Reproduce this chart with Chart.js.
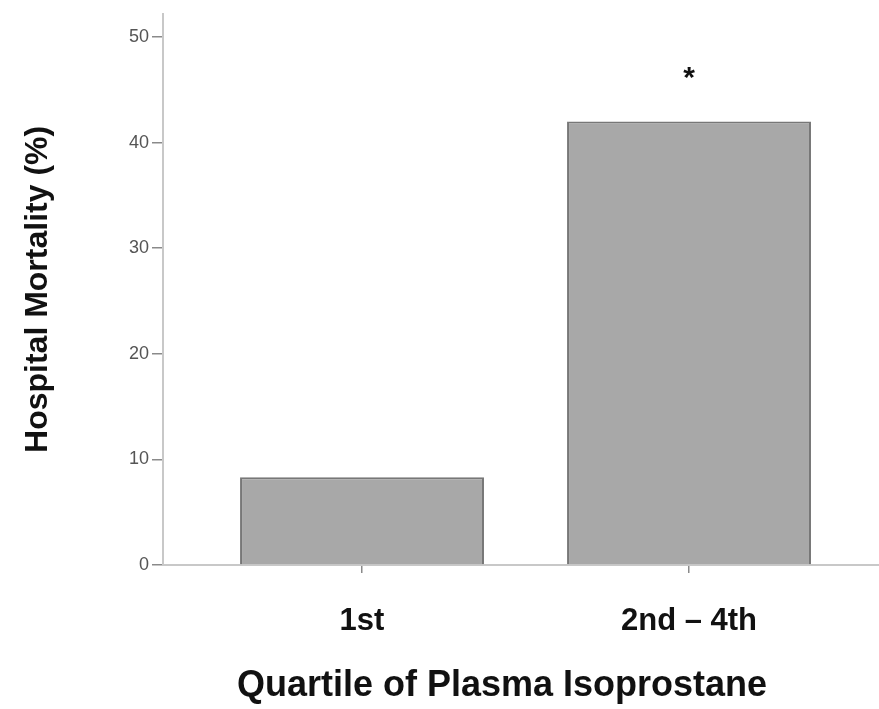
<!DOCTYPE html>
<html>
<head>
<meta charset="utf-8">
<script src="https://cdn.jsdelivr.net/npm/chart.js@4.4.1/dist/chart.umd.min.js"></script>
<style>
  html, body { margin: 0; padding: 0; background: #ffffff; }
  #wrap { width: 879px; height: 709px; }
</style>
</head>
<body>
<div id="wrap"><canvas id="mortalityChart" width="879" height="709"></canvas></div>
<script>
const categories = ['1st', '2nd \u2013 4th'];
const mortality = [8.3, 42.0];
const significance = ['', '*'];
const yTickValues = [0, 10, 20, 30, 40, 50];
const yTitle = 'Hospital Mortality (%)';
const xTitle = 'Quartile of Plasma Isoprostane';

const fontFamily = '"Liberation Sans", Arial, Helvetica, sans-serif';

// asterisk above bars + x title drawn by hand (title sits off-centre in the original)
const annotations = {
    id: 'annotations',
    afterDatasetsDraw(chart) {
        const ctx = chart.ctx;
        const x = chart.scales.x;
        const y = chart.scales.y;
        ctx.save();
        ctx.fillStyle = '#111111';
        ctx.textAlign = 'center';
        ctx.textBaseline = 'alphabetic';
        ctx.font = 'bold 30px ' + fontFamily;
        significance.forEach((mark, i) => {
            if (!mark) return;
            ctx.fillText(mark, x.getPixelForValue(i), y.getPixelForValue(mortality[i]) - 35);
        });
        ctx.font = 'bold 36px ' + fontFamily;
        ctx.fillText(xTitle, 502, 696);
        ctx.restore();
    }
};

const ctx = document.getElementById('mortalityChart').getContext('2d');
new Chart(ctx, {
    type: 'bar',
    data: {
        datasets: [{
            data: mortality.map((v, i) => ({ x: i, y: v })),
            backgroundColor: '#a8a8a8',
            borderColor: '#777777',
            borderWidth: 2,
            categoryPercentage: 0.746,
            barPercentage: 1.0
        }]
    },
    options: {
        responsive: false,
        animation: false,
        layout: { padding: { top: 10, right: 0, left: 0, bottom: 0 } },
        plugins: {
            legend: { display: false },
            tooltip: { enabled: false }
        },
        scales: {
            x: {
                type: 'linear',
                offset: false,
                min: -0.6086,
                max: 1.581,
                afterBuildTicks: (scale) => {
                    scale.ticks = categories.map((_, i) => ({ value: i }));
                },
                afterFit: (scale) => { scale.height = 144; },
                grid: {
                    offset: false,
                    drawOnChartArea: false,
                    drawTicks: true,
                    tickLength: 8,
                    color: '#8a8a8a',
                    lineWidth: 1.5
                },
                border: { display: true, color: '#c8c8c8', width: 2 },
                ticks: {
                    autoSkip: false,
                    maxRotation: 0,
                    padding: 30,
                    color: '#111111',
                    font: { family: fontFamily, size: 31, weight: 'bold' },
                    callback: (value) => categories[value]
                }
            },
            y: {
                min: 0,
                max: 52.2,
                afterBuildTicks: (scale) => {
                    scale.ticks = yTickValues.map(v => ({ value: v }));
                },
                afterFit: (scale) => { scale.width = 163; },
                grid: {
                    drawOnChartArea: false,
                    drawTicks: true,
                    tickLength: 11,
                    color: '#8a8a8a',
                    lineWidth: 1.5
                },
                border: { display: true, color: '#c8c8c8', width: 2 },
                ticks: {
                    padding: 3,
                    color: '#555555',
                    font: { family: fontFamily, size: 18 }
                },
                title: {
                    display: true,
                    text: yTitle,
                    color: '#111111',
                    padding: { top: 19, bottom: 0 },
                    font: { family: fontFamily, size: 32, weight: 'bold' }
                }
            }
        }
    },
    plugins: [annotations]
});
</script>
</body>
</html>
